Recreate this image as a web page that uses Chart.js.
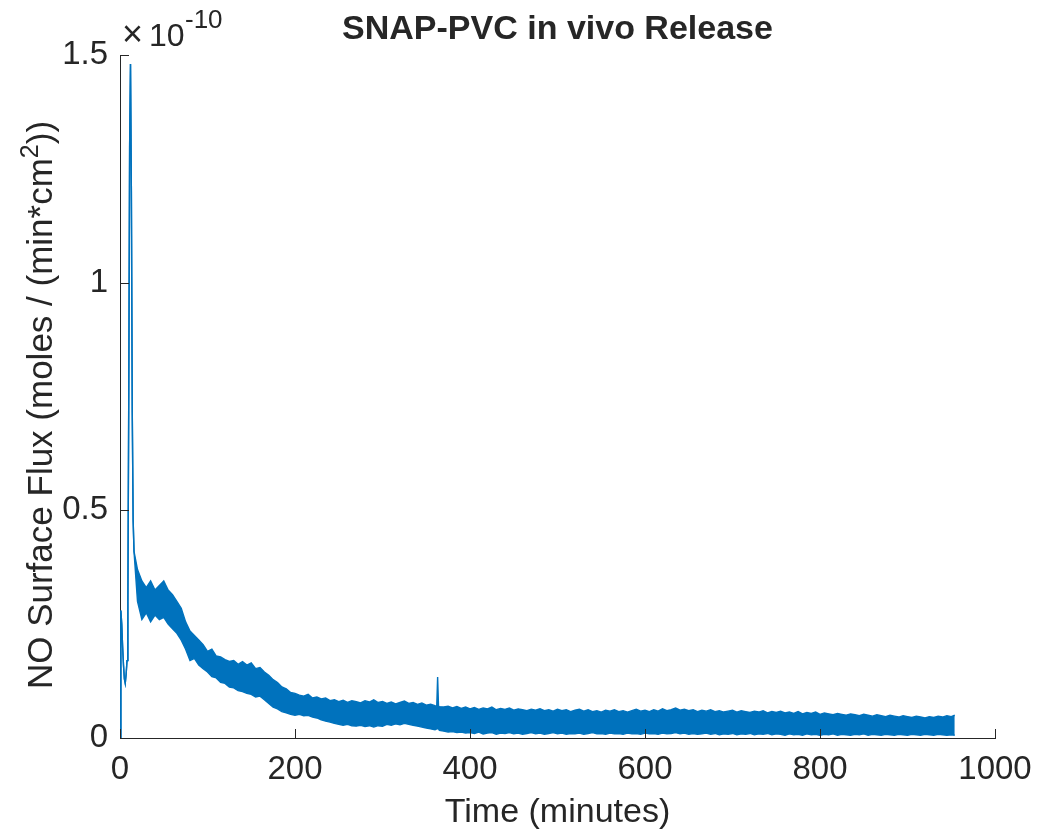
<!DOCTYPE html>
<html><head><meta charset="utf-8">
<script src="https://cdn.jsdelivr.net/npm/chart.js@4/dist/chart.umd.min.js"></script>
<style>html,body{margin:0;padding:0;background:#fff}#wrap{width:1039px;height:840px}</style>
</head><body><div id="wrap"><canvas id="c" width="1039" height="840"></canvas></div>
<script>
// ---- data (flux in units of 1e-10 moles/(min*cm^2), time in minutes) ----
const earlyTimes = [0, 1, 2, 3, 4, 5, 6, 7, 8, 9, 10, 11, 12, 13, 14, 15, 16];
const earlyFlux  = [0, .28, .25, .2, .16, .13, .12, .14, .17, .3, .75, 1.3, 1.48, 1.2, .72, .48, .41];

const bandTimes = [
  20,25,30,35,40,45,50,55,60,65,
  70,75,80,85,90,95,100,105,110,115,
  120,125,130,135,140,145,150,155,160,165,
  170,175,180,185,190,195,200,205,210,215,
  220,225,230,235,240,245,250,255,260,265,
  270,275,280,285,290,295,300,305,310,315,
  320,325,330,335,340,345,350,355,360,362,363,364,
  365,370,375,380,385,390,395,400,405,410,
  415,420,425,430,435,440,445,450,455,460,
  465,470,475,480,485,490,495,500,505,510,
  515,520,525,530,535,540,545,550,555,560,
  565,570,575,580,585,590,595,600,605,610,
  615,620,625,630,635,640,645,650,655,660,
  665,670,675,680,685,690,695,700,705,710,
  715,720,725,730,735,740,745,750,755,760,
  765,770,775,780,785,790,795,800,805,810,
  815,820,825,830,835,840,845,850,855,860,
  865,870,875,880,885,890,895,900,905,910,
  915,920,925,930,935,940,945,950,954
];
const bandUpper = [
  .37,.345,.33,.345,.325,.335,.345,.325,.315,.30,
  .285,.255,.235,.225,.215,.205,.19,.195,.18,.178,
  .172,.168,.17,.162,.168,.16,.165,.152,.155,.145,
  .138,.128,.122,.112,.108,.10,.098,.094,.092,.096,
  .088,.09,.086,.088,.082,.084,.08,.083,.078,.082,
  .08,.077,.082,.079,.084,.078,.08,.076,.079,.075,
  .078,.081,.076,.078,.074,.077,.072,.074,.071,.07,.134,.07,
  .069,.068,.07,.066,.069,.065,.068,.064,.067,.063,
  .066,.064,.068,.062,.065,.063,.066,.061,.064,.062,
  .06,.063,.061,.064,.06,.062,.059,.063,.06,.062,
  .058,.061,.063,.059,.062,.058,.06,.057,.061,.059,
  .062,.058,.06,.057,.06,.063,.059,.061,.058,.062,
  .059,.064,.06,.062,.066,.061,.063,.06,.062,.058,
  .061,.059,.062,.058,.06,.057,.059,.061,.057,.06,
  .058,.056,.059,.057,.06,.055,.058,.056,.059,.055,
  .057,.054,.058,.053,.056,.054,.057,.052,.055,.053,
  .051,.054,.052,.05,.053,.051,.049,.052,.05,.048,
  .051,.049,.047,.05,.048,.046,.049,.047,.045,.048,
  .046,.044,.047,.045,.048,.046,.049,.047,.05
];
const bandLower = [
  .30,.26,.275,.255,.27,.26,.265,.25,.24,.23,
  .215,.195,.17,.175,.16,.152,.145,.135,.132,.122,
  .12,.112,.11,.104,.102,.098,.096,.09,.092,.084,
  .076,.068,.064,.058,.055,.052,.05,.052,.049,.05,
  .046,.044,.04,.037,.035,.032,.03,.028,.03,.027,
  .026,.028,.025,.027,.024,.027,.026,.03,.028,.031,
  .029,.032,.03,.028,.026,.024,.022,.02,.018,.02,.02,.02,
  .017,.015,.013,.014,.012,.013,.011,.012,.01,.013,
  .009,.011,.012,.008,.011,.01,.012,.009,.011,.008,
  .01,.012,.009,.011,.008,.01,.012,.009,.011,.008,
  .01,.009,.011,.008,.01,.012,.009,.01,.008,.011,
  .009,.01,.008,.011,.009,.01,.008,.011,.009,.01,
  .008,.011,.009,.01,.012,.009,.011,.008,.01,.008,
  .009,.011,.008,.01,.007,.009,.008,.01,.007,.009,
  .008,.01,.007,.009,.008,.01,.007,.009,.008,.006,
  .009,.007,.008,.006,.009,.007,.008,.006,.008,.007,
  .009,.006,.008,.007,.006,.008,.007,.009,.006,.008,
  .007,.006,.008,.007,.006,.008,.007,.006,.008,.007,
  .006,.008,.007,.006,.008,.007,.006,.007,.006
];
const xTicks = [0, 200, 400, 600, 800, 1000];
const yTicks = [0, 0.5, 1, 1.5];
const titleText = 'SNAP-PVC in vivo Release';
const xTitle = 'Time (minutes)';
const yTitleMain = 'NO Surface Flux (moles / (min*cm';
const yTitleSup = '2';
const yTitleEnd = '))';
const exponentBase = '\u00d7';
const exponentTen = '10';
const exponentText = '-10';

// ---- build ----
const lineColor = '#0072BD';
const ink = '#262626';
const FAM = "'Liberation Sans', Arial, Helvetica, sans-serif";
const lowerPts = earlyTimes.map((t,i)=>({x:t,y:earlyFlux[i]})).concat(bandTimes.map((t,i)=>({x:t,y:bandLower[i]})));
const upperPts = earlyTimes.map((t,i)=>({x:t,y:earlyFlux[i]})).concat(bandTimes.map((t,i)=>({x:t,y:bandUpper[i]})));

const decor = {
  id: 'decor',
  afterDraw(chart){
    const {ctx, scales:{x, y}, chartArea:a} = chart;
    ctx.save();
    ctx.strokeStyle = ink; ctx.lineWidth = 1;
    ctx.beginPath();
    x.ticks.forEach(t=>{const px=Math.round(x.getPixelForValue(t.value))+0.5; ctx.moveTo(px,a.bottom); ctx.lineTo(px,a.bottom-9);});
    y.ticks.forEach(t=>{const py=Math.round(y.getPixelForValue(t.value))+0.5; ctx.moveTo(a.left,py); ctx.lineTo(a.left+9,py);});
    ctx.stroke();
    ctx.fillStyle = ink;
    ctx.textBaseline = 'alphabetic';
    // title
    ctx.font = 'bold 34px ' + FAM;
    ctx.textAlign = 'center';
    ctx.fillText(titleText, (a.left+a.right)/2, 39);
    // x title
    ctx.font = '34px ' + FAM;
    ctx.fillText(xTitle, (a.left+a.right)/2, 822);
    // exponent
    ctx.textAlign = 'left';
    ctx.font = '36px ' + FAM;
    ctx.fillText(exponentBase, 122, 46);
    ctx.font = '32px ' + FAM;
    ctx.fillText(exponentTen, 149, 46);
    ctx.font = '26px ' + FAM;
    ctx.fillText(exponentText, 185, 28);
    // y title
    ctx.save();
    ctx.translate(52, 405);
    ctx.rotate(-Math.PI/2);
    ctx.font = '35px ' + FAM;
    const w1 = ctx.measureText(yTitleMain).width;
    const w3 = ctx.measureText(yTitleEnd).width;
    ctx.font = '25px ' + FAM;
    const w2 = ctx.measureText(yTitleSup).width;
    let sx = -(w1 + w2 + w3)/2;
    ctx.font = '35px ' + FAM;
    ctx.fillText(yTitleMain, sx, 0);
    ctx.font = '25px ' + FAM;
    ctx.fillText(yTitleSup, sx + w1, -14);
    ctx.font = '35px ' + FAM;
    ctx.fillText(yTitleEnd, sx + w1 + w2, 0);
    ctx.restore();
    ctx.restore();
  }
};

new Chart(document.getElementById('c'), {
  type: 'line',
  data: {
    datasets: [
      {data: lowerPts, borderColor: lineColor, borderWidth: 1.4, pointRadius: 0, fill: false, tension: 0},
      {data: upperPts, borderColor: lineColor, backgroundColor: lineColor, borderWidth: 1.4, pointRadius: 0, fill: '-1', tension: 0}
    ]
  },
  options: {
    responsive: false,
    animation: false,
    layout: {padding: {top: 55, right: 44, left: 0, bottom: 0}, autoPadding: false},
    plugins: {legend: {display: false}, tooltip: {enabled: false}, title: {display: false}},
    scales: {
      x: {
        type: 'linear', min: 0, max: 1000,
        afterFit: s => { s.height = 102; s.paddingLeft = 0; s.paddingRight = 0; },
        afterBuildTicks: s => { s.ticks = xTicks.map(v=>({value:v})); },
        grid: {display: false, drawTicks: false},
        border: {display: true, color: ink, width: 1},
        ticks: {color: ink, padding: 12, maxRotation: 0, font: {family: FAM, size: 33}, callback: v => String(v)}
      },
      y: {
        type: 'linear', min: 0, max: 1.5,
        afterFit: s => { s.width = 120; s.paddingTop = 0; s.paddingBottom = 0; },
        afterBuildTicks: s => { s.ticks = yTicks.map(v=>({value:v})); },
        grid: {display: false, drawTicks: false},
        border: {display: true, color: ink, width: 1},
        ticks: {color: ink, padding: 12, font: {family: FAM, size: 33}, callback: v => String(v)}
      }
    }
  },
  plugins: [decor]
});
</script>
</body></html>
